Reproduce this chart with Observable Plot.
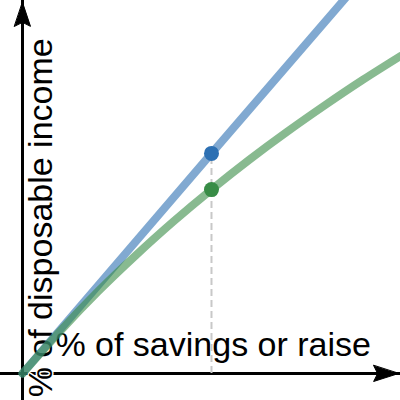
<!DOCTYPE html>
<html><head><meta charset="utf-8">
<script src="https://cdn.jsdelivr.net/npm/d3@7"></script>
<script src="https://cdn.jsdelivr.net/npm/@observablehq/plot@0.6"></script>
<style>html,body{margin:0;padding:0;background:#fff} #chart svg{display:block}</style>
</head><body><div id="chart"></div>
<script>
// data (arbitrary units, origin at the axes crossing)
const greenX = [0, 1, 2, 3, 4, 5, 6, 7, 8, 9, 10];
const greenY = [0, 1.14, 2.2, 3.17, 4.08, 4.93, 5.73, 6.48, 7.19, 7.87, 8.51];
const blueX = [0, 5, 9];
const blueY = [0, 5.9, 10.6];
const markX = 5;
const markBlue = 5.9;
const markGreen = 4.93;
const xLabel = "% of savings or raise";
const yLabel = "% of disposable income";
const xDomain = [-0.582, 10];
const yDomain = [-0.724, 10];
const arrowTipX = 9.95;
const arrowTipY = 9.95;

const blue = blueX.map((x, i) => ({x, y: blueY[i]}));
const green = greenX.map((x, i) => ({x, y: greenY[i]}));

const arrowHead = {
  draw(ctx, l) {
    ctx.moveTo(0, -l);
    ctx.lineTo(8, 0);
    ctx.lineTo(0, -4);
    ctx.lineTo(-8, 0);
    ctx.closePath();
  }
};
const font = "Liberation Sans, Arial, Helvetica, sans-serif";

const chart = Plot.plot({
  width: 400,
  height: 400,
  margin: 0,
  x: {domain: xDomain, axis: null},
  y: {domain: yDomain, axis: null},
  marks: [
    Plot.ruleY([0], {stroke: "black", strokeWidth: 3}),
    Plot.ruleX([0], {stroke: "black", strokeWidth: 3}),
    Plot.vector([{x: 0, y: arrowTipY}], {x: "x", y: "y", length: 24, rotate: 0, anchor: "end", shape: arrowHead, fill: "black", stroke: "black", strokeWidth: 1}),
    Plot.vector([{x: arrowTipX, y: 0}], {x: "x", y: "y", length: 25, rotate: 90, anchor: "end", shape: arrowHead, fill: "black", stroke: "black", strokeWidth: 1}),
    Plot.text([{x: 0.87, y: 0.48, t: xLabel}], {x: "x", y: "y", text: "t", textAnchor: "start", lineAnchor: "bottom", fontSize: 34, fontFamily: font, fill: "black", stroke: "white", strokeWidth: 3}),
    Plot.text([{x: 0.79, y: -0.64, t: yLabel}], {x: "x", y: "y", text: "t", textAnchor: "start", lineAnchor: "bottom", rotate: -90, fontSize: 34, fontFamily: font, fill: "black", stroke: "white", strokeWidth: 3}),
    Plot.ruleX([markX], {y1: 0, y2: markBlue, stroke: "#c8c8c8", strokeWidth: 2, strokeDasharray: "7,4"}),
    Plot.line(blue, {x: "x", y: "y", stroke: "#2d70b3", strokeOpacity: 0.6, strokeWidth: 8, clip: true}),
    Plot.line(green, {x: "x", y: "y", stroke: "#388c46", strokeOpacity: 0.6, strokeWidth: 8, curve: "natural", clip: true}),
    Plot.dot([{x: markX, y: markBlue}], {x: "x", y: "y", r: 7.5, fill: "#2d70b3"}),
    Plot.dot([{x: markX, y: markGreen}], {x: "x", y: "y", r: 7.5, fill: "#388c46"})
  ]
});
document.getElementById("chart").appendChild(chart);
</script>
</body></html>
